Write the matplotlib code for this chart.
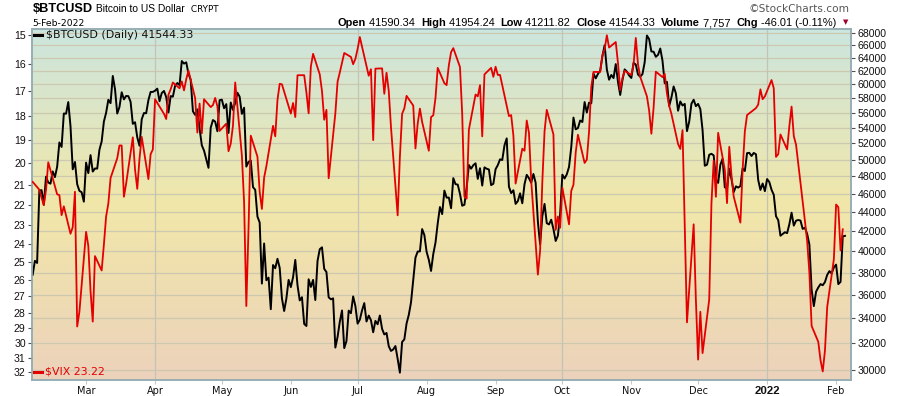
import numpy as np
import pandas as pd
import matplotlib
matplotlib.use('Agg')
import matplotlib.pyplot as plt
import matplotlib.dates as mdates
from matplotlib.colors import LinearSegmentedColormap
from matplotlib.ticker import FixedLocator, FixedFormatter, NullLocator
from matplotlib.lines import Line2D

# ---------------- data ----------------
btc_start = '2021-02-05'
btc_close = [
    # Feb 2021 (5..28)
    37800, 39100, 38900, 46374, 46420, 44807, 47969, 47287, 47153, 48577, 47911, 49133,
    52119, 51552, 55906, 55888, 57488, 54207, 48825, 49705, 47093, 46339, 46188, 45137,
    # Mar
    49631, 48378, 50538, 48561, 48927, 48912, 51206, 52246, 54824, 56008, 57805, 57332,
    61243, 59302, 55907, 56804, 58870, 57858, 58346, 58313, 57523, 54529, 54738, 52774,
    51704, 55137, 55974, 55947, 57750, 58918, 58918,
    # Apr
    59095, 59384, 57603, 58758, 59057, 58192, 56048, 58323, 58245, 59793, 60204, 59893,
    63503, 63109, 63314, 61572, 60683, 56216, 55724, 56473, 53906, 51763, 51093, 50050,
    49004, 54021, 55033, 54824, 53555, 57750,
    # May
    57828, 56631, 57200, 53333, 57424, 56397, 57356, 58804, 58233, 55859, 56704, 49150,
    49716, 49880, 46760, 46457, 43538, 42909, 37002, 40782, 37304, 37537, 34770, 38706,
    38403, 39295, 38436, 35698, 34617, 35679, 37333,
    # Jun
    36684, 37575, 39188, 36851, 35520, 35797, 33552, 33381, 37389, 36702, 37334, 35553,
    39097, 40219, 40406, 38347, 38054, 35787, 35616, 35698, 31676, 32505, 33723, 34663,
    31637, 32186, 34650, 34434, 35867, 35040,
    # Jul
    33572, 33897, 34668, 35287, 33746, 34235, 33855, 32877, 33798, 33520, 34240, 33155,
    32702, 32822, 31780, 31421, 31533, 31796, 30817, 29807, 32110, 32313, 33581, 34292,
    35350, 37337, 39406, 39995, 40008, 42235, 41626,
    # Aug
    39974, 39201, 38152, 39747, 40870, 42816, 44556, 43798, 46365, 45585, 45593, 44428,
    47793, 47096, 47047, 46004, 44695, 44802, 46717, 49339, 48905, 49321, 49546, 47706,
    48960, 46942, 49058, 48897, 48806, 46991, 47145,
    # Sep
    48847, 49327, 50026, 49944, 51753, 52633, 46812, 46092, 46408, 44896, 45201, 46063,
    44963, 47092, 48177, 47784, 47267, 48279, 47261, 43013, 40694, 43578, 44896, 42844,
    42716, 43208, 42236, 41035, 41564, 43791,
    # Oct
    48199, 47753, 48234, 49112, 51515, 55361, 53806, 53967, 54968, 54772, 57485, 56041,
    57401, 57322, 61593, 60892, 61553, 62026, 64262, 65992, 62210, 60693, 61394, 60930,
    63039, 60364, 58483, 60622, 62228, 61888, 61318,
    # Nov
    60949, 63227, 62970, 61453, 61125, 61528, 63327, 67566, 66972, 64996, 64950, 64155,
    64469, 65466, 63557, 60162, 60369, 56943, 58120, 59697, 58730, 56289, 57569, 57005,
    57229, 53569, 54816, 57248, 57807, 56915,
    # Dec
    57229, 56509, 53713, 49254, 49369, 50582, 50701, 50504, 47672, 47244, 49363, 50098,
    46737, 46613, 48896, 47666, 46202, 46849, 46708, 46881, 48937, 48629, 50784, 50823,
    50429, 50810, 50641, 47588, 46444, 47179, 46306,
    # Jan 2022
    47686, 47345, 46458, 45897, 43570, 43160, 41558, 41734, 41912, 41822, 42736, 43949,
    42592, 43100, 43177, 43114, 42250, 42375, 41744, 40680, 36457, 35030, 36276, 36654,
    36954, 36852, 37139, 37784, 38138, 37917, 38483,
    # Feb 2022
    38743, 36952, 37155, 41500, 41544,
]

vix_start, vix_end = '2021-02-05', '2022-02-04'
market_holidays = ['2021-02-15', '2021-04-02', '2021-05-31', '2021-07-05',
                   '2021-09-06', '2021-11-25', '2021-12-24', '2022-01-17']
vix_close = [
    # Feb 2021
    20.87, 21.24, 21.63, 21.99, 21.25, 19.97, 21.46, 21.50, 22.49, 22.05, 23.45, 23.11,
    21.34, 28.89, 27.95,
    # Mar
    23.35, 24.10, 26.67, 28.57, 24.66, 25.47, 24.03, 22.56, 21.91, 20.69, 19.79, 19.23,
    19.23, 21.58, 20.95, 18.88, 20.30, 21.20, 19.81, 18.86, 20.74, 19.61, 19.40,
    # Apr
    17.33, 17.91, 18.12, 17.16, 16.95, 16.69, 16.91, 16.65, 16.99, 16.57, 16.25, 17.29,
    18.68, 17.50, 18.71, 17.33, 17.64, 17.56, 17.28, 17.61, 18.61,
    # May
    18.31, 19.48, 19.15, 18.39, 16.69, 19.66, 21.84, 27.59, 23.13, 18.81, 19.72, 21.34,
    22.18, 20.67, 20.15, 18.40, 18.84, 17.36, 16.74, 16.76,
    # Jun
    17.90, 17.48, 18.04, 16.42, 16.42, 17.07, 17.89, 16.10, 15.65, 16.39, 17.02, 18.15,
    17.75, 20.70, 17.89, 16.66, 16.32, 15.97, 15.62, 15.76, 16.02, 15.83,
    # Jul
    15.48, 15.07, 16.44, 16.20, 19.00, 16.18, 16.17, 17.12, 16.33, 17.01, 18.45, 22.50,
    19.73, 17.91, 17.69, 17.20, 17.58, 19.36, 18.31, 17.70, 18.24,
    # Aug
    19.46, 18.04, 17.97, 17.28, 16.15, 16.72, 16.79, 16.06, 15.59, 15.45, 16.12, 17.91,
    21.57, 21.67, 18.56, 17.15, 17.22, 16.79, 18.84, 16.39, 16.15, 16.48,
    # Sep
    16.11, 16.41, 16.41, 18.00, 17.96, 18.80, 20.95, 19.37, 19.46, 18.18, 18.69, 20.81,
    25.71, 24.36, 20.87, 18.63, 17.75, 18.76, 23.25, 22.56, 23.14,
    # Oct
    21.15, 22.96, 21.30, 21.00, 19.54, 18.77, 20.00, 19.85, 18.64, 16.86, 16.30, 16.30,
    15.70, 15.49, 15.01, 15.43, 15.24, 15.98, 16.98, 16.53, 16.26,
    # Nov
    16.41, 16.03, 15.10, 16.03, 16.48, 17.22, 17.78, 18.73, 17.66, 16.29, 16.49, 16.37,
    17.11, 17.59, 17.91, 19.17, 19.38, 18.58, 28.62, 22.96, 27.19,
    # Dec
    31.12, 27.95, 30.67, 27.18, 21.89, 19.90, 21.58, 18.69, 20.31, 21.89, 19.29, 20.57,
    21.57, 22.87, 20.31, 18.63, 17.96, 17.68, 17.54, 16.95, 17.33, 17.22,
    # Jan 2022
    16.60, 16.91, 19.73, 19.61, 18.76, 19.40, 18.41, 17.62, 18.83, 19.19, 22.79, 23.85,
    25.59, 28.85, 29.90, 31.16, 31.96, 30.49, 27.66, 24.83,
    # Feb 2022
    21.96, 22.09, 24.35, 23.22,
]

btc_ticks = list(range(30000, 68001, 2000))
vix_ticks = list(range(15, 33))
month_ticks = ['2021-03-01', '2021-04-01', '2021-05-01', '2021-06-01', '2021-07-01',
               '2021-08-01', '2021-09-01', '2021-10-01', '2021-11-01', '2021-12-01',
               '2022-01-01', '2022-02-01']
month_labels = ['Mar', 'Apr', 'May', 'Jun', 'Jul', 'Aug', 'Sep', 'Oct', 'Nov', 'Dec',
                '2022', 'Feb']
quarter_lines = ['2021-04-01', '2021-07-01', '2021-10-01', '2022-01-01']

btc_dates = pd.date_range(btc_start, periods=len(btc_close), freq='D')
vix_dates = pd.bdate_range(vix_start, vix_end)
vix_dates = vix_dates[~vix_dates.isin(pd.to_datetime(market_holidays))]
assert len(vix_dates) == len(vix_close), (len(vix_dates), len(vix_close))

# ---------------- figure ----------------
W, H = 900, 396
fig = plt.figure(figsize=(W / 100, H / 100), dpi=100)
fig.patch.set_facecolor('white')

L, R, T, B = 32, 851, 29, 380
pos = [L / W, 1 - B / H, (R - L) / W, (B - T) / H]

bg = fig.add_axes(pos, zorder=0)
cmap = LinearSegmentedColormap.from_list(
    'sc', [(0.0, '#cce5de'), (0.5, '#f1e7a9'), (1.0, '#ecd2bb')])
grad = np.linspace(0, 1, 256).reshape(-1, 1)
bg.imshow(grad, aspect='auto', cmap=cmap, extent=[0, 1, 0, 1], origin='upper')
bg.set_xlim(0, 1); bg.set_ylim(0, 1)
bg.axis('off')

ax = fig.add_axes(pos, zorder=1)
ax.patch.set_alpha(0)
ax2 = ax.twinx()
ax2.patch.set_visible(False)

x0 = mdates.date2num(pd.Timestamp('2021-02-05')) - 0.3
x1 = mdates.date2num(pd.Timestamp('2021-02-05')) + 367.7

grid_c = '#cdc8b0'

# BTC (right axis)
ax.set_yscale('log')
ax.set_ylim(29280, 68640)
ax.yaxis.set_major_locator(FixedLocator(btc_ticks))
ax.yaxis.set_major_formatter(FixedFormatter([str(v) for v in btc_ticks]))
ax.yaxis.set_minor_locator(NullLocator())
ax.yaxis.tick_right()
ax.grid(True, axis='y', color=grid_c, lw=0.9, zorder=1)
ax.set_axisbelow(True)
for d in quarter_lines:
    ax.axvline(mdates.date2num(pd.Timestamp(d)), color='#c2c5b5', lw=0.9, zorder=1)
ax.plot(btc_dates, btc_close, color='black', lw=1.4, zorder=3)

# VIX (left axis, inverted)
ax2.set_yscale('log')
ax2.plot(vix_dates, vix_close, color='#e40000', lw=1.3, zorder=3)
ax2.set_ylim(32.58, 14.80)
ax2.yaxis.set_major_locator(FixedLocator(vix_ticks))
ax2.yaxis.set_major_formatter(FixedFormatter([str(v) for v in vix_ticks]))
ax2.yaxis.set_minor_locator(NullLocator())
ax2.yaxis.tick_left()

ax.set_xlim(x0, x1)
ax2.set_xlim(x0, x1)
mt = [mdates.date2num(pd.Timestamp(d)) for d in month_ticks]
ax.xaxis.set_major_locator(FixedLocator(mt))
ax.xaxis.set_major_formatter(FixedFormatter(month_labels))
ax.xaxis.set_minor_locator(NullLocator())

tick_c = '#505050'
ax.tick_params(axis='y', which='major', direction='out', length=3, width=0.8,
               color=tick_c, labelsize=7.6, pad=1.5, labelcolor='#111111')
ax2.tick_params(axis='y', which='major', direction='out', length=3, width=0.8,
                color=tick_c, labelsize=7.6, pad=1.5, labelcolor='#111111')
ax.tick_params(axis='x', which='major', direction='out', length=3, width=0.8,
               color='#c8c8c8', labelsize=7.0, pad=1.5, labelcolor='#111111')
for lab in ax.get_yticklabels() + ax2.get_yticklabels():
    lab.set_fontfamily('Liberation Sans')
for lab, txt in zip(ax.get_xticklabels(), month_labels):
    lab.set_fontfamily('DejaVu Sans')
    if txt == '2022':
        lab.set_fontweight('bold')
        lab.set_fontfamily('Liberation Sans')
        lab.set_fontsize(8.2)

spine_c = '#97aeb5'
for a in (ax, ax2):
    for s in a.spines.values():
        s.set_color(spine_c)
        s.set_linewidth(1.2)

# ---------------- legends inside ----------------
def fx(px):
    return px / W

def fy(py):
    return 1 - py / H

fig.add_artist(Line2D([fx(34), fx(42)], [fy(35), fy(35)], color='black', lw=2.2))
fig.text(fx(46), fy(35), '$BTCUSD (Daily) 41544.33', fontsize=7.9,
         family='DejaVu Sans', va='center', ha='left', color='#111111', parse_math=False)
fig.add_artist(Line2D([fx(34), fx(42)], [fy(372), fy(372)], color='#e40000', lw=2.2))
fig.text(fx(45), fy(372), '$VIX 23.22', fontsize=7.9, family='DejaVu Sans',
         va='center', ha='left', color='#e40000', parse_math=False)

# ---------------- header ----------------
renderer = fig.canvas.get_renderer()

def seq(items, x_start, y_px):
    x = x_start
    for txt, bold, fam, col, sz in items:
        t = fig.text(fx(x), fy(y_px), txt, fontsize=sz,
                     fontweight='bold' if bold else 'normal', family=fam,
                     color=col, va='baseline', ha='left', parse_math=False)
        x += t.get_window_extent(renderer).width
    return x

seq([('$BTCUSD', True, 'Liberation Sans', 'black', 9.2),
     (' Bitcoin to US Dollar ', False, 'Liberation Sans', 'black', 7.4),
     (' CRYPT', False, 'DejaVu Sans', 'black', 6.4)], 33, 12.5)

fig.text(fx(32), fy(26.5), '5-Feb-2022', fontsize=6.7, family='DejaVu Sans',
         va='baseline', ha='left', color='black')

hdr = [('Open', True), (' 41590.34  ', False), ('High', True), (' 41954.24  ', False),
       ('Low', True), (' 41211.82  ', False), ('Close', True), (' 41544.33  ', False),
       ('Volume', True), (' 7,757  ', False), ('Chg', True), (' -46.01 (-0.11%)', False)]
seq([(t, b, 'Liberation Sans', 'black', 7.95) for t, b in hdr], 338, 26.5)
fig.text(fx(843), fy(22), '\u25BC', fontsize=5, family='DejaVu Sans',
         color='#a0002a', va='center', ha='left')

fig.text(fx(850), fy(9), '\u00A9StockCharts.com', fontsize=7.6, family='DejaVu Sans',
         color='#555555', va='center', ha='right')

fig.savefig('out.png', dpi=100, facecolor='white')
